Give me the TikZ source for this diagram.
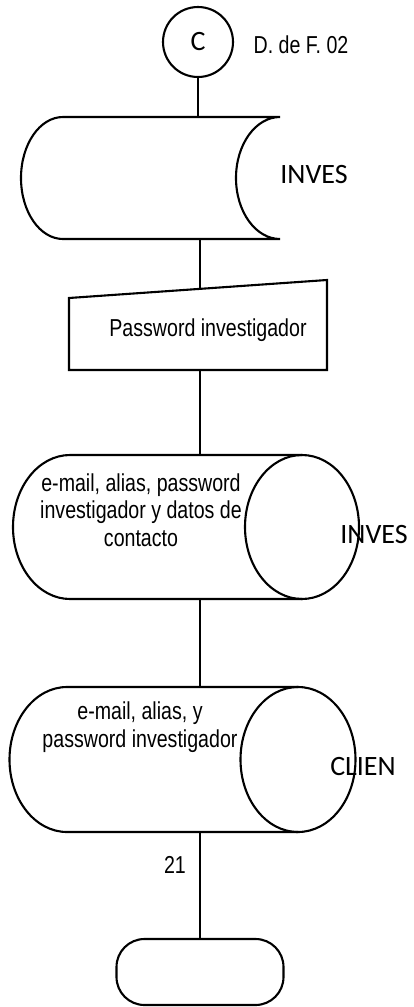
\documentclass[tikz,border=0pt]{standalone}
\usepackage{fontspec}
\setmainfont{Liberation Sans}
\newfontfamily\narfont[FakeStretch=0.8]{Liberation Sans}
\newfontfamily\calfont{Carlito}
\begin{document}
\begin{tikzpicture}[x=1pt,y=1pt,line width=2.1pt,
  shapeline/.style={draw=black,line width=2.1pt},
  conn/.style={draw=black,line width=2.1pt},
  nartext/.style={inner sep=0pt,font=\narfont\fontsize{24.5}{27.5}\selectfont,align=center},
  caltext/.style={inner sep=0pt,font=\calfont\fontsize{28}{32}\selectfont}]
\useasboundingbox (0,0) rectangle (414,-1007);
\fill[white] (0,0) rectangle (414,-1007);

% connector circle
\node[circle,shapeline,minimum size=70pt,inner sep=0pt,font=\calfont\fontsize{28}{32}\selectfont] (c) at (198,-42) {\raisebox{-6pt}{C}};
\node[nartext] (ref) at (301,-45) {D. de F. 02};

% display shape
\draw[shapeline] (63,-117) -- (280,-117)
  arc[start angle=90,end angle=270,x radius=44,y radius=61]
  -- (63,-239)
  arc[start angle=270,end angle=90,x radius=42,y radius=61];
\coordinate (dtop) at (198,-117);
\coordinate (dbot) at (200,-239);
\node[caltext] (inves1) at (314,-175) {INVES};

% manual input
\draw[shapeline] (69,-298) -- (327,-280) -- (327,-370) -- (69,-370) -- cycle;
\coordinate (mtop) at (200,-288.9);
\coordinate (mbot) at (200,-370);
\node[nartext] (pw) at (208,-330) {Password investigador};

% cylinder 1
\draw[shapeline] (302,-455) -- (70,-455)
  arc[start angle=90,end angle=270,x radius=57,y radius=72] -- (302,-599);
\draw[shapeline] (302,-527) ellipse [x radius=57,y radius=72];
\coordinate (c1top) at (200,-455);
\coordinate (c1bot) at (200,-599);
\node[nartext] (c1text) at (141,-510) {e-mail, alias, password\\investigador y datos de\\contacto};
\node[caltext] (inves2) at (374,-535) {INVES};

% cylinder 2
\draw[shapeline] (298,-687) -- (67,-687)
  arc[start angle=90,end angle=270,x radius=57.5,y radius=72.5] -- (298,-832);
\draw[shapeline] (298,-759.5) ellipse [x radius=57.5,y radius=72.5];
\coordinate (c2top) at (200,-687);
\coordinate (c2bot) at (200,-832);
\node[nartext] (c2text) at (140,-727) {e-mail, alias, y\\password investigador};
\node[caltext] (clien) at (363,-767) {CLIEN};

% terminal
\node[shapeline,rounded corners=28pt,minimum width=167pt,minimum height=66pt,inner sep=0pt] (term) at (200,-972) {};
\node[nartext] (n21) at (175,-865) {21};

% connectors
\draw[conn] (c.south) -- (dtop);
\draw[conn] (dbot) -- (mtop);
\draw[conn] (mbot) -- (c1top);
\draw[conn] (c1bot) -- (c2top);
\draw[conn] (c2bot) -- (term.north);
\end{tikzpicture}
\end{document}
